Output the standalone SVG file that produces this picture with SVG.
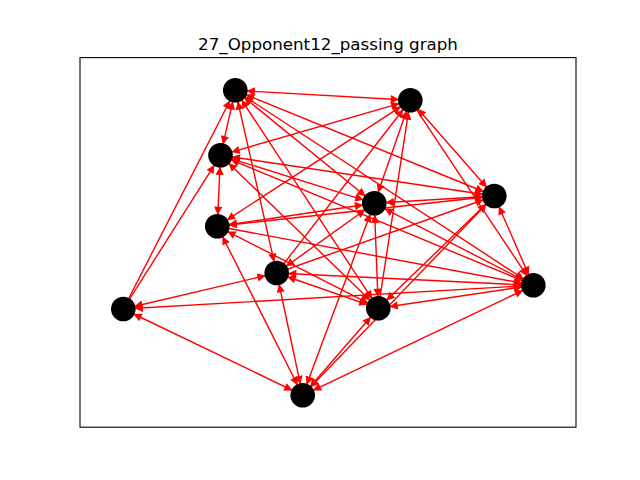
<svg xmlns="http://www.w3.org/2000/svg" width="640" height="480" viewBox="0 0 640 480">
<style>
.e{stroke:#ff0000;stroke-width:1.4;fill:none}
.n{fill:#000}
.t{font-family:"DejaVu Sans",sans-serif;font-size:16.7px;fill:#000}
</style>
<defs>
<marker id="a" markerUnits="userSpaceOnUse" orient="auto-start-reverse" refX="0" refY="0" markerWidth="1" markerHeight="1" overflow="visible">
<path d="M-12.5,0 L-19,-3.2 L-19,3.2 Z" fill="#ff0000" stroke="#ff0000" stroke-width="1.1" stroke-linejoin="miter"/>
</marker>
</defs>
<rect width="640" height="480" fill="#fff"/>
<rect x="80" y="57.6" width="496" height="369.6" fill="none" stroke="#000" stroke-width="1.1"/>
<text class="t" x="328" y="49.5" text-anchor="middle">27_Opponent12_passing graph</text>
<g id="edges">
<line class="e" x1="235.3" y1="90.3" x2="410.3" y2="100.3" marker-start="url(#a)" marker-end="url(#a)"/>
<line class="e" x1="235.3" y1="90.3" x2="220.5" y2="155.3" marker-start="url(#a)" marker-end="url(#a)"/>
<line class="e" x1="220.5" y1="155.3" x2="217.3" y2="226.3" marker-start="url(#a)" marker-end="url(#a)"/>
<line class="e" x1="123.3" y1="309" x2="235.3" y2="90.3" marker-end="url(#a)"/>
<line class="e" x1="123.3" y1="309" x2="220.5" y2="155.3" marker-end="url(#a)"/>
<line class="e" x1="123.3" y1="309" x2="276.7" y2="273" marker-start="url(#a)" marker-end="url(#a)"/>
<line class="e" x1="533.3" y1="285.3" x2="123.3" y2="309" marker-start="url(#a)" marker-end="url(#a)"/>
<line class="e" x1="123.3" y1="309" x2="302.7" y2="395.3" marker-start="url(#a)" marker-end="url(#a)"/>
<line class="e" x1="302.7" y1="395.3" x2="276.7" y2="273" marker-start="url(#a)" marker-end="url(#a)"/>
<line class="e" x1="302.7" y1="395.3" x2="217.3" y2="226.3" marker-start="url(#a)" marker-end="url(#a)"/>
<line class="e" x1="302.7" y1="395.3" x2="378.3" y2="308.3" marker-start="url(#a)" marker-end="url(#a)"/>
<line class="e" x1="302.7" y1="395.3" x2="494.3" y2="196" marker-start="url(#a)" marker-end="url(#a)"/>
<line class="e" x1="378.3" y1="308.3" x2="494.3" y2="196" marker-start="url(#a)" marker-end="url(#a)"/>
<line class="e" x1="302.7" y1="395.3" x2="533.3" y2="285.3" marker-start="url(#a)" marker-end="url(#a)"/>
<line class="e" x1="374.3" y1="203.3" x2="302.7" y2="395.3" marker-start="url(#a)" marker-end="url(#a)"/>
<line class="e" x1="494.3" y1="196" x2="533.3" y2="285.3" marker-start="url(#a)" marker-end="url(#a)"/>
<line class="e" x1="410.3" y1="100.3" x2="494.3" y2="196" marker-start="url(#a)" marker-end="url(#a)"/>
<line class="e" x1="410.3" y1="100.3" x2="533.3" y2="285.3" marker-end="url(#a)"/>
<line class="e" x1="235.3" y1="90.3" x2="533.3" y2="285.3" marker-start="url(#a)" marker-end="url(#a)"/>
<line class="e" x1="374.3" y1="203.3" x2="533.3" y2="285.3" marker-start="url(#a)" marker-end="url(#a)"/>
<line class="e" x1="220.5" y1="155.3" x2="533.3" y2="285.3" marker-start="url(#a)" marker-end="url(#a)"/>
<line class="e" x1="217.3" y1="226.3" x2="533.3" y2="285.3" marker-end="url(#a)"/>
<line class="e" x1="276.7" y1="273" x2="533.3" y2="285.3" marker-start="url(#a)" marker-end="url(#a)"/>
<line class="e" x1="378.3" y1="308.3" x2="533.3" y2="285.3" marker-start="url(#a)" marker-end="url(#a)"/>
<line class="e" x1="410.3" y1="100.3" x2="374.3" y2="203.3" marker-start="url(#a)" marker-end="url(#a)"/>
<line class="e" x1="378.3" y1="308.3" x2="410.3" y2="100.3" marker-end="url(#a)"/>
<line class="e" x1="410.3" y1="100.3" x2="220.5" y2="155.3" marker-start="url(#a)" marker-end="url(#a)"/>
<line class="e" x1="217.3" y1="226.3" x2="410.3" y2="100.3" marker-start="url(#a)" marker-end="url(#a)"/>
<line class="e" x1="276.7" y1="273" x2="410.3" y2="100.3" marker-end="url(#a)"/>
<line class="e" x1="235.3" y1="90.3" x2="374.3" y2="203.3" marker-start="url(#a)" marker-end="url(#a)"/>
<line class="e" x1="235.3" y1="90.3" x2="378.3" y2="308.3" marker-start="url(#a)" marker-end="url(#a)"/>
<line class="e" x1="235.3" y1="90.3" x2="494.3" y2="196" marker-start="url(#a)" marker-end="url(#a)"/>
<line class="e" x1="235.3" y1="90.3" x2="276.7" y2="273" marker-start="url(#a)" marker-end="url(#a)"/>
<line class="e" x1="220.5" y1="155.3" x2="374.3" y2="203.3" marker-start="url(#a)" marker-end="url(#a)"/>
<line class="e" x1="220.5" y1="155.3" x2="494.3" y2="196" marker-start="url(#a)" marker-end="url(#a)"/>
<line class="e" x1="220.5" y1="155.3" x2="378.3" y2="308.3" marker-start="url(#a)" marker-end="url(#a)"/>
<line class="e" x1="217.3" y1="226.3" x2="374.3" y2="203.3" marker-start="url(#a)" marker-end="url(#a)"/>
<line class="e" x1="494.3" y1="196" x2="217.3" y2="226.3" marker-start="url(#a)" marker-end="url(#a)"/>
<line class="e" x1="217.3" y1="226.3" x2="378.3" y2="308.3" marker-start="url(#a)" marker-end="url(#a)"/>
<line class="e" x1="276.7" y1="273" x2="374.3" y2="203.3" marker-start="url(#a)" marker-end="url(#a)"/>
<line class="e" x1="276.7" y1="273" x2="378.3" y2="308.3" marker-start="url(#a)" marker-end="url(#a)"/>
<line class="e" x1="276.7" y1="273" x2="494.3" y2="196" marker-end="url(#a)"/>
<line class="e" x1="374.3" y1="203.3" x2="378.3" y2="308.3" marker-start="url(#a)" marker-end="url(#a)"/>
<line class="e" x1="494.3" y1="196" x2="374.3" y2="203.3" marker-start="url(#a)" marker-end="url(#a)"/>
</g>
<g id="A"><circle class="n" cx="235.3" cy="90.3" r="12.3"/></g>
<g id="B"><circle class="n" cx="410.3" cy="100.3" r="12.3"/></g>
<g id="C"><circle class="n" cx="220.5" cy="155.3" r="12.3"/></g>
<g id="D"><circle class="n" cx="374.3" cy="203.3" r="12.3"/></g>
<g id="E"><circle class="n" cx="494.3" cy="196" r="12.3"/></g>
<g id="F"><circle class="n" cx="217.3" cy="226.3" r="12.3"/></g>
<g id="G"><circle class="n" cx="276.7" cy="273" r="12.3"/></g>
<g id="H"><circle class="n" cx="123.3" cy="309" r="12.3"/></g>
<g id="I"><circle class="n" cx="378.3" cy="308.3" r="12.3"/></g>
<g id="J"><circle class="n" cx="533.3" cy="285.3" r="12.3"/></g>
<g id="K"><circle class="n" cx="302.7" cy="395.3" r="12.3"/></g>
</svg>
